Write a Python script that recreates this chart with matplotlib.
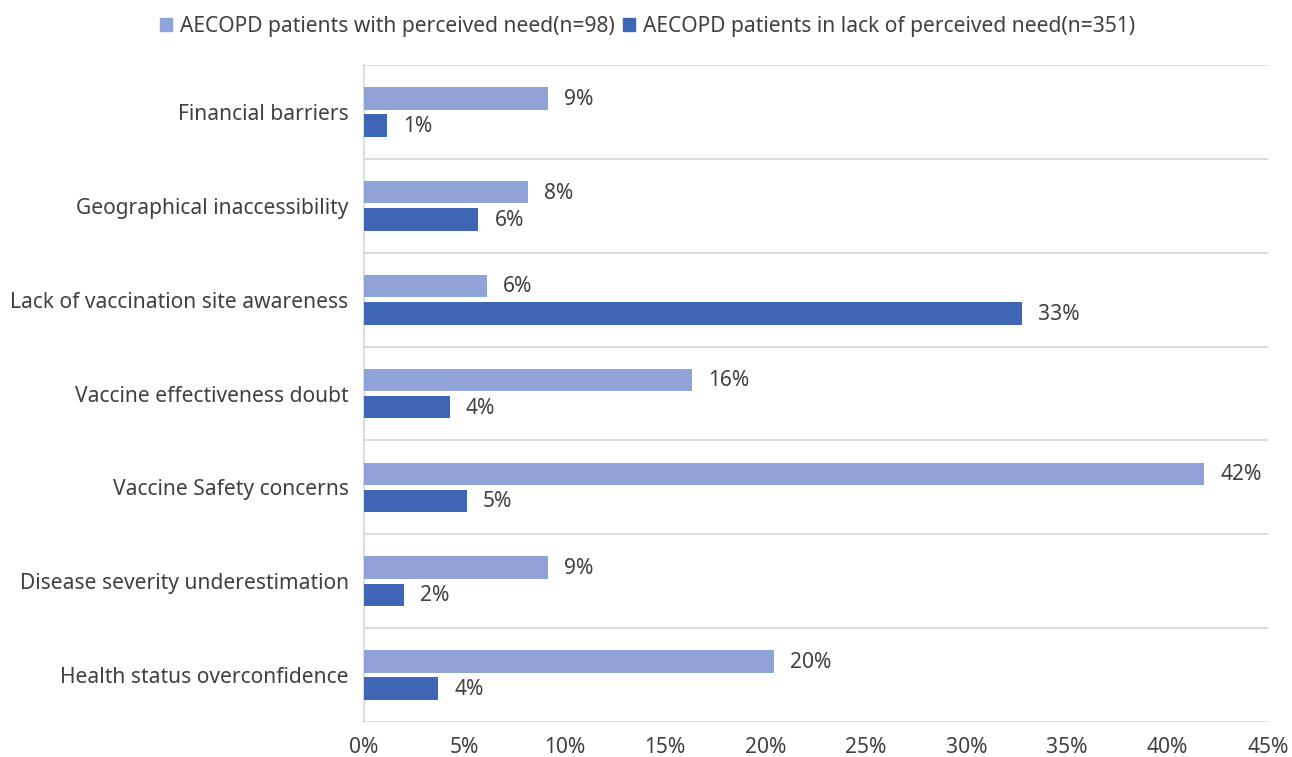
import numpy as np
import matplotlib
matplotlib.use('Agg')
import matplotlib.pyplot as plt
from matplotlib.patches import Patch

plt.rcParams['font.family'] = ['Noto Sans', 'DejaVu Sans']

# Reasons for not getting vaccinated, listed top to bottom
categories = [
    'Financial barriers',
    'Geographical inaccessibility',
    'Lack of vaccination site awareness',
    'Vaccine effectiveness doubt',
    'Vaccine Safety concerns',
    'Disease severity underestimation',
    'Health status overconfidence',
]
# Share of patients (%) in each group
with_need = [9.18, 8.16, 6.12, 16.33, 41.84, 9.18, 20.41]
lack_need = [1.14, 5.70, 32.76, 4.27, 5.13, 1.99, 3.70]
series_names = ['AECOPD patients with perceived need(n=98)',
                'AECOPD patients in lack of perceived need(n=351)']
x_ticks = [0, 5, 10, 15, 20, 25, 30, 35, 40, 45]

light = '#8FA3D9'
dark = '#3F65B5'
text_col = '#404040'
fs = 15.1

fig = plt.figure(figsize=(12.92, 7.57), dpi=100)
ax = fig.add_axes([0.2817, 0.0462, 0.6997, 0.8679])

y = np.arange(len(categories))
h = 0.24
off = 0.145
ax.barh(y - off, with_need, height=h, color=light, zorder=3)
ax.barh(y + off, lack_need, height=h, color=dark, zorder=3)

for yi, v in zip(y, with_need):
    ax.text(v + 0.8, yi - off + 0.01, f'{v:.0f}%', va='center', ha='left',
            fontsize=fs, color=text_col)
for yi, v in zip(y, lack_need):
    ax.text(v + 0.8, yi + off + 0.01, f'{v:.0f}%', va='center', ha='left',
            fontsize=fs, color=text_col)

ax.set_ylim(len(categories) - 0.5, -0.5)
ax.set_xlim(0, 45)
ax.set_yticks(y)
ax.set_yticklabels(categories, fontsize=fs, color=text_col)
ax.set_xticks(x_ticks)
ax.set_xticklabels([f'{t}%' for t in x_ticks], fontsize=fs, color=text_col)
ax.tick_params(axis='both', length=0)
ax.tick_params(axis='y', pad=11)
ax.tick_params(axis='x', pad=11)

# separators between categories
for b in np.arange(-0.5, len(categories), 1.0):
    ax.axhline(b, color='#D9D9D9', lw=1.3, zorder=1)

for s in ['top', 'right', 'bottom']:
    ax.spines[s].set_visible(False)
ax.spines['left'].set_color('#D9D9D9')
ax.spines['left'].set_linewidth(1.3)

handles = [Patch(color=light), Patch(color=dark)]
fig.legend(handles, series_names, loc='center', bbox_to_anchor=(0.501, 0.965),
           ncol=2, frameon=False, fontsize=fs, handlelength=0.6,
           handleheight=0.6, handletextpad=0.35, columnspacing=0.4,
           labelcolor=text_col)

fig.savefig('out.png', dpi=100)
